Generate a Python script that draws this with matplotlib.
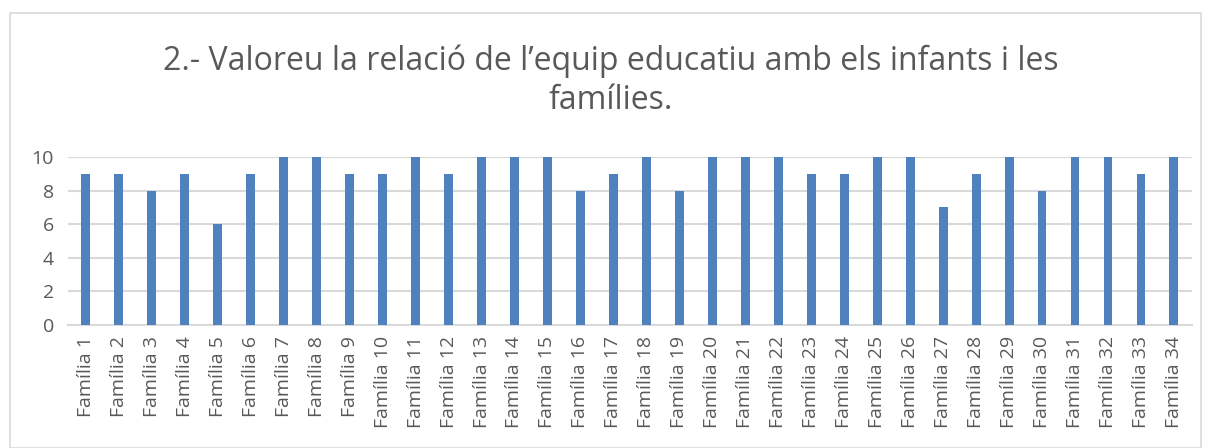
import matplotlib
matplotlib.use('Agg')
from matplotlib import pyplot as plt
from matplotlib.patches import Rectangle

families = ['Família %d' % i for i in range(1, 35)]
scores = [9, 9, 8, 9, 6, 9, 10, 10, 9, 9, 10, 9, 10, 10, 10, 8, 9,
          10, 8, 10, 10, 10, 9, 9, 10, 10, 7, 9, 10, 8, 10, 10, 9, 10]
yticks = [0, 2, 4, 6, 8, 10]

plt.rcParams['font.family'] = ['Open Sans', 'DejaVu Sans']

fig = plt.figure(figsize=(12.09, 4.48), dpi=100)
# chart frame
fig.patches.append(Rectangle((0.008, 0.0), 0.985, 0.972, transform=fig.transFigure,
                             fill=False, edgecolor='#d9d9d9', linewidth=1.2))

ax = fig.add_axes([0.056, 0.2746, 0.93, 0.375])
x = range(len(families))
ax.bar(x, scores, width=0.27, color='#4f81bd', zorder=3)

ax.set_ylim(0, 10)
ax.set_xlim(-0.55, len(families) - 0.45)
ax.set_yticks(yticks)
ax.set_xticks(list(x))
ax.set_xticklabels(families, rotation=90, fontsize=14, color='#595959')
ax.tick_params(axis='y', labelsize=14, colors='#595959', length=0, pad=10)
ax.tick_params(axis='x', length=0, pad=8)
ax.grid(axis='y', color='#d9d9d9', linewidth=1.5, zorder=0)
for s in ['top', 'right', 'left']:
    ax.spines[s].set_visible(False)
ax.spines['bottom'].set_color('#d9d9d9')
ax.spines['bottom'].set_linewidth(1.5)

fig.text(0.505, 0.82, "2.- Valoreu la relació de l’equip educatiu amb els infants i les\nfamílies.",
         ha='center', va='center', fontsize=23, color='#595959', linespacing=1.25)

plt.savefig('out.png', dpi=100)
